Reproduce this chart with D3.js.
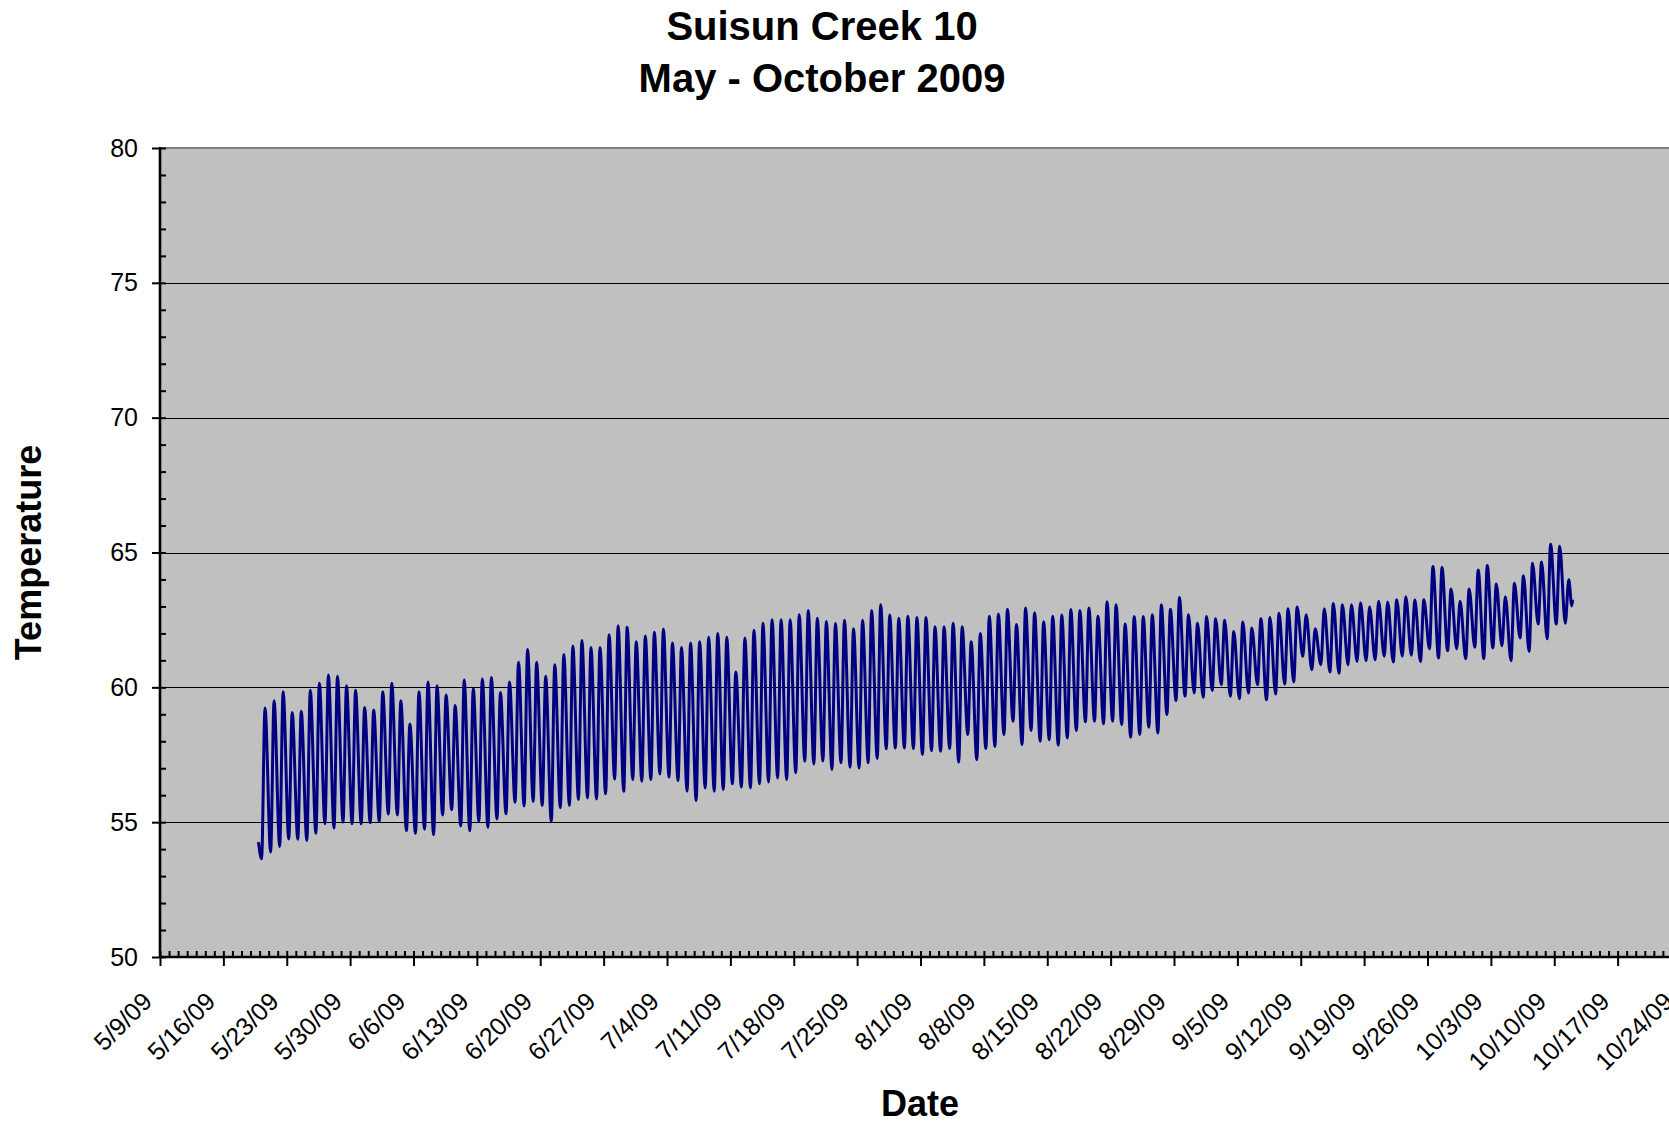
<!DOCTYPE html>
<html>
<head>
<meta charset="utf-8">
<script src="https://cdn.jsdelivr.net/npm/d3@7"></script>
<style>
  html, body { margin: 0; padding: 0; background: #ffffff; }
  svg { display: block; font-family: "Liberation Sans", Arial, sans-serif; }
</style>
</head>
<body>
<svg id="chart" width="1669" height="1126"></svg>
<script>
// ---------------- DATA ----------------
const titleLines = ["Suisun Creek 10", "May - October 2009"];
const xTitle = "Date";
const yTitle = "Temperature";

const axisStart = "2009-05-09";
const axisEnd = "2009-10-24";
const yTicks = [50, 55, 60, 65, 70, 75, 80];

// first logged day with a full cycle
const firstDay = "2009-05-20";
// hour of the daily minimum (morning) and maximum (afternoon)
const minHour = 5.3;
const maxHour = 14.4;

// daily morning minimum temperatures, starting 5/20/09
const dailyMin = [
  53.64, 53.89, 54.10, 54.38, 54.37, 54.32, 54.59, 54.94, 54.78, 55.00,
  54.94, 54.94, 54.98, 55.03, 55.30, 55.27, 54.68, 54.59, 54.74, 54.53,
  55.27, 55.46, 54.86, 54.68, 55.03, 54.81, 55.12, 55.31, 55.74, 55.60,
  55.77, 55.62, 55.02, 55.53, 55.62, 55.84, 55.90, 55.86, 56.05, 56.60,
  56.15, 56.58, 56.52, 56.58, 56.79, 56.67, 56.54, 56.15, 55.80, 56.27,
  56.15, 56.21, 56.42, 56.30, 56.27, 56.42, 56.49, 56.64, 56.58, 56.83,
  57.26, 57.16, 57.27, 56.95, 57.20, 57.04, 57.01, 57.20, 57.36, 57.72,
  57.75, 57.75, 57.73, 57.51, 57.65, 57.63, 57.73, 57.23, 58.25, 57.32,
  57.73, 57.81, 58.25, 58.74, 57.88, 58.40, 58.00, 58.06, 57.85, 58.12,
  58.40, 58.72, 58.74, 58.65, 58.74, 58.62, 58.15, 58.25, 58.52, 58.31,
  58.99, 59.51, 59.67, 59.79, 59.63, 59.88, 60.10, 59.67, 59.58, 59.79,
  60.10, 59.54, 59.75, 60.12, 60.20, 61.15, 60.65, 60.84, 60.57, 60.52,
  60.84, 60.96, 60.99, 61.02, 61.15, 60.94, 61.15, 61.19, 60.96, 61.43,
  61.09, 61.36, 61.43, 61.06, 61.49, 61.06, 61.46, 61.54, 60.99, 61.83,
  61.33, 62.35, 61.80, 62.35, 62.38
];

// daily afternoon maximum temperatures, starting 5/20/09
const dailyMax = [
  59.23, 59.50, 59.84, 59.07, 59.11, 59.89, 60.15, 60.46, 60.41, 60.06,
  59.89, 59.25, 59.16, 59.84, 60.15, 59.50, 58.64, 59.84, 60.20, 60.06,
  59.72, 59.33, 60.27, 59.96, 60.31, 60.36, 59.81, 60.20, 60.93, 61.40,
  60.93, 60.41, 60.84, 61.22, 61.53, 61.74, 61.48, 61.48, 61.95, 62.28,
  62.23, 61.69, 61.90, 62.04, 62.16, 61.64, 61.48, 61.64, 61.69, 61.86,
  62.00, 61.86, 60.57, 61.83, 62.12, 62.38, 62.51, 62.51, 62.51, 62.69,
  62.85, 62.56, 62.44, 62.37, 62.49, 62.17, 62.49, 62.85, 63.06, 62.68,
  62.56, 62.64, 62.59, 62.59, 62.25, 62.25, 62.38, 62.25, 61.69, 62.00,
  62.64, 62.72, 62.90, 62.33, 62.94, 62.77, 62.43, 62.64, 62.68, 62.89,
  62.85, 62.94, 62.64, 63.17, 63.06, 62.35, 62.63, 62.63, 62.69, 63.06,
  62.90, 63.33, 62.69, 62.38, 62.63, 62.54, 62.49, 62.07, 62.42, 62.20,
  62.54, 62.59, 62.75, 62.91, 62.98, 62.69, 62.17, 62.91, 63.11, 63.06,
  63.06, 63.14, 62.98, 63.19, 63.16, 63.25, 63.36, 63.25, 63.25, 64.48,
  64.44, 63.65, 63.19, 63.65, 64.35, 64.52, 63.83, 63.36, 63.86, 64.14,
  64.60, 64.65, 65.31, 65.23, 63.99
];

// readings before the first full cycle and after the last one
const leadReadings = [["2009-05-19T21:00", 54.26]];
const tailReadings = [["2009-10-11T22:30", 63.02], ["2009-10-12T00:40", 63.25]];

// ---------------- CHART ----------------
const m = { left: 160, top: 148, bottom: 957, right: 1681 };

const parseDay = d3.timeParse("%Y-%m-%d");
const parseTime = d3.timeParse("%Y-%m-%dT%H:%M");
const d0 = parseDay(axisStart), d1 = parseDay(axisEnd);

const x = d3.scaleTime().domain([d0, d1]).range([m.left, m.right]);
const y = d3.scaleLinear().domain([50, 80]).range([m.bottom, m.top]);

const svg = d3.select("#chart");

// plot area
svg.append("rect")
  .attr("x", m.left).attr("y", m.top)
  .attr("width", m.right - m.left).attr("height", m.bottom - m.top)
  .attr("fill", "#c0c0c0");

// gridlines
svg.append("g").selectAll("line")
  .data(yTicks.filter(v => v > 50 && v < 80))
  .join("line")
  .attr("x1", m.left).attr("x2", m.right)
  .attr("y1", d => Math.round(y(d)) + 0.5).attr("y2", d => Math.round(y(d)) + 0.5)
  .attr("stroke", "#000").attr("stroke-width", 1);

// top border
svg.append("line")
  .attr("x1", m.left).attr("x2", m.right)
  .attr("y1", y(80)).attr("y2", y(80))
  .attr("stroke", "#808080").attr("stroke-width", 2);

// series
const start = parseDay(firstDay);
const pts = [];
leadReadings.forEach(([t, v]) => pts.push({ t: parseTime(t), v }));
dailyMin.forEach((v, i) => {
  const day = d3.timeDay.offset(start, i);
  pts.push({ t: new Date(+day + minHour * 3600e3), v });
  pts.push({ t: new Date(+day + maxHour * 3600e3), v: dailyMax[i] });
});
tailReadings.forEach(([t, v]) => pts.push({ t: parseTime(t), v }));

const line = d3.line()
  .x(d => x(d.t)).y(d => y(d.v))
  .curve(d3.curveMonotoneX);

svg.append("path")
  .datum(pts)
  .attr("d", line)
  .attr("fill", "none")
  .attr("stroke", "#000080")
  .attr("stroke-width", 3)
  .attr("stroke-linejoin", "round");

// y axis
const yMinor = d3.axisLeft(y).tickValues(d3.range(50, 81, 1)).tickSize(-6).tickFormat("");
const gyMinor = svg.append("g").attr("transform", `translate(${m.left},0)`).call(yMinor);
gyMinor.select(".domain").remove();
gyMinor.selectAll("line").attr("stroke", "#000").attr("stroke-width", 2);

const yMajor = d3.axisLeft(y).tickValues(yTicks).tickSize(8).tickPadding(14);
const gy = svg.append("g").attr("transform", `translate(${m.left},0)`).call(yMajor);
gy.select(".domain").remove();
gy.selectAll("line").attr("stroke", "#000").attr("stroke-width", 2);
gy.selectAll("text")
  .attr("font-size", 25)
  .attr("font-family", "Liberation Sans, Arial, sans-serif")
  .attr("fill", "#000");

// x axis
const fmt = d3.timeFormat("%-m/%-d/%y");
const dayTicks = d3.timeDay.range(d0, d3.timeDay.offset(d1, 1));
const weekTicks = d3.timeDay.range(d0, d3.timeDay.offset(d1, 1), 7);

const xMinor = d3.axisBottom(x).tickValues(dayTicks).tickSize(-6).tickFormat("");
const gxMinor = svg.append("g").attr("transform", `translate(0,${m.bottom})`).call(xMinor);
gxMinor.select(".domain").remove();
gxMinor.selectAll("line").attr("stroke", "#000").attr("stroke-width", 2);

const xMajor = d3.axisBottom(x).tickValues(weekTicks).tickSize(9).tickFormat(fmt);
const gx = svg.append("g").attr("transform", `translate(0,${m.bottom})`).call(xMajor);
gx.select(".domain").remove();
gx.selectAll("line").attr("stroke", "#000").attr("stroke-width", 2);
gx.selectAll("text")
  .attr("font-size", 25)
  .attr("font-family", "Liberation Sans, Arial, sans-serif")
  .attr("fill", "#000")
  .attr("text-anchor", "end")
  .attr("y", 0).attr("dy", 0)
  .attr("transform", "translate(-7,46) rotate(-45)");

// axis lines
svg.append("line")
  .attr("x1", m.left).attr("x2", m.left)
  .attr("y1", m.top - 1).attr("y2", m.bottom + 1)
  .attr("stroke", "#000").attr("stroke-width", 2.6);
svg.append("line")
  .attr("x1", m.left - 1).attr("x2", m.right)
  .attr("y1", m.bottom).attr("y2", m.bottom)
  .attr("stroke", "#000").attr("stroke-width", 2.6);

// titles
const title = svg.append("text")
  .attr("text-anchor", "middle")
  .attr("font-size", 40).attr("font-weight", "bold").attr("fill", "#000");
titleLines.forEach((t, i) => {
  title.append("tspan").attr("x", 822).attr("y", 40 + i * 52).text(t);
});

svg.append("text")
  .attr("x", 920).attr("y", 1116)
  .attr("text-anchor", "middle")
  .attr("font-size", 36).attr("font-weight", "bold").attr("fill", "#000")
  .text(xTitle);

svg.append("text")
  .attr("transform", `translate(41,${(m.top + m.bottom) / 2}) rotate(-90)`)
  .attr("text-anchor", "middle")
  .attr("font-size", 36).attr("font-weight", "bold").attr("fill", "#000")
  .text(yTitle);
</script>
</body>
</html>
